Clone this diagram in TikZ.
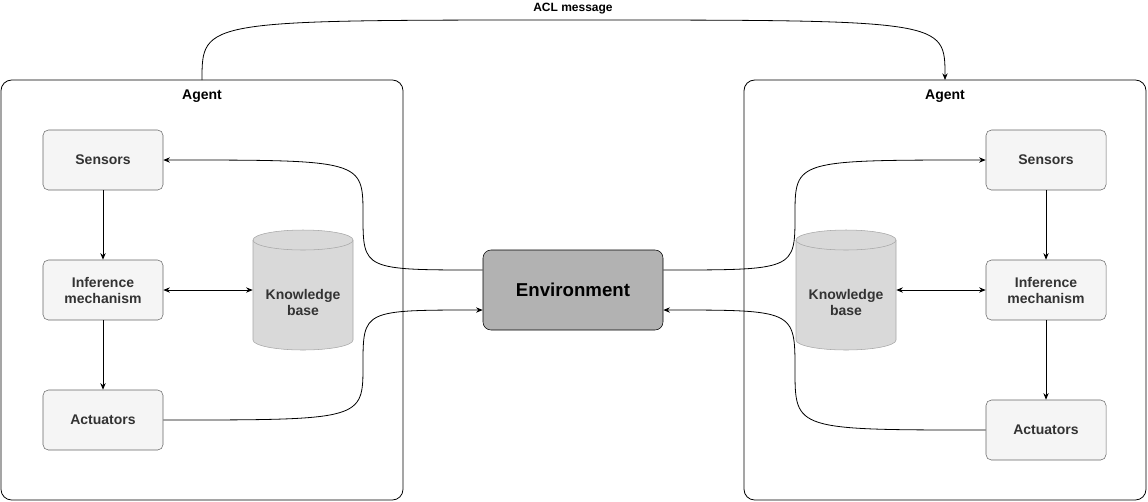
\documentclass[tikz,border=0pt]{standalone}
\usepackage{fontspec}
\setmainfont{Liberation Sans}
\usetikzlibrary{arrows.meta}
\begin{document}
\begin{tikzpicture}[x=0.75pt,y=-0.75pt,
  box/.style={draw=black,rounded corners=8pt,line width=0.6pt},
  comp/.style={draw=gray!80!black,fill=gray!8,rounded corners=4pt,minimum width=90pt,minimum height=45pt,font=\bfseries\fontsize{10.5}{12}\selectfont,text=black!80,align=center},
  env/.style={draw=black,fill=gray!60,rounded corners=6pt,minimum width=135pt,minimum height=60pt,font=\bfseries\fontsize{14}{16}\selectfont},
  cylbody/.style={draw=gray!70,fill=gray!30},
  cyl/.style={minimum width=75pt,minimum height=90pt,font=\bfseries\fontsize{10.5}{12}\selectfont,text=black!80,align=center},
  arr/.style={-{Stealth[length=5pt,width=4pt]},line width=0.6pt},
  barr/.style={{Stealth[length=5pt,width=4pt]}-{Stealth[length=5pt,width=4pt]},line width=0.6pt}]
\useasboundingbox (0,0) rectangle (1148,501);
% agents
\draw[box] (1,80) rectangle (403,500);
\draw[box] (744,80) rectangle (1146,500);
\node[font=\bfseries\fontsize{10.5}{12}\selectfont] (la) at (202,96) {Agent};
\node[font=\bfseries\fontsize{10.5}{12}\selectfont] (ra) at (945,96) {Agent};
\coordinate (ltop) at (202,80);
\coordinate (rtop) at (945,80);
% cylinders
\foreach \cx in {303,846}{
  \draw[cylbody] (\cx-50,240) -- (\cx-50,340) arc[start angle=180,end angle=0,x radius=50,y radius=10] -- (\cx+50,240) arc[start angle=0,end angle=-180,x radius=50,y radius=10];
  \draw[cylbody] (\cx-50,240) arc[start angle=180,end angle=0,x radius=50,y radius=10];
}
\node[cyl] (lkb) at (303,302) {Knowledge\\base};
\node[cyl] (rkb) at (846,302) {Knowledge\\base};
% components
\node[comp] (ls) at (103,160) {Sensors};
\node[comp] (li) at (103,290) {Inference\\mechanism};
\node[comp] (lact) at (103,420) {Actuators};
\node[comp] (rs) at (1046,160) {Sensors};
\node[comp] (ri) at (1046,290) {Inference\\mechanism};
\node[comp] (ract) at (1046,430) {Actuators};
\node[env] (env) at (573,290) {Environment};
% arrows
\draw[arr] (ls) -- (li);
\draw[arr] (li) -- (lact);
\draw[arr] (rs) -- (ri);
\draw[arr] (ri) -- (ract);
\draw[barr] (li.east) -- (lkb.west|-li.east);
\draw[barr] (ri.west) -- (rkb.east|-ri.west);
\draw[arr] (env.west|-0,270) .. controls (363,270) .. (363,215) .. controls (363,160) .. (ls.east);
\draw[arr] (lact.east) .. controls (363,420) .. (363,365) .. controls (363,310) .. (env.west|-0,310);
\draw[arr] (env.east|-0,270) .. controls (795,270) .. (795,215) .. controls (795,160) .. (rs.west);
\draw[arr] (ract.west) .. controls (795,430) .. (795,370) .. controls (795,310) .. (env.east|-0,310);
\draw[arr] (ltop) .. controls (202,20) .. (573,20) .. controls (945,20) .. (rtop);
\node[font=\bfseries\fontsize{9}{10}\selectfont] (acl) at (573,9) {ACL message};
\end{tikzpicture}
\end{document}
